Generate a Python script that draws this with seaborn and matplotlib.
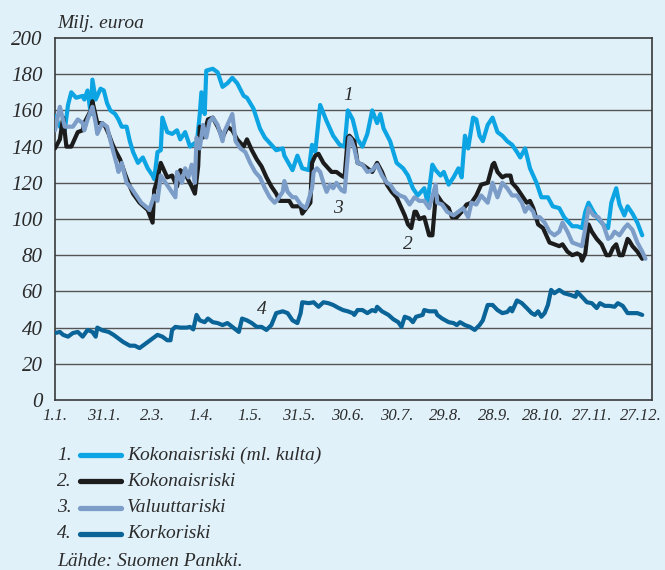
import matplotlib
matplotlib.use("Agg")
import matplotlib.pyplot as plt
from matplotlib.lines import Line2D
import seaborn as sns
import pandas as pd

# ---------------- data (day of year, million euro) ----------------
series_names = ["Kokonaisriski (ml. kulta)", "Kokonaisriski", "Valuuttariski", "Korkoriski"]

days_1 = [0, 3, 6, 8, 10, 13, 17, 18, 20, 22, 23, 25, 28, 30, 32, 34, 37, 39, 41, 44, 46, 48, 51, 54,
          57, 60, 61, 63, 65, 66, 69, 72, 75, 77, 80, 83, 86, 87, 89, 90, 92, 93, 97, 100, 103, 106,
          109, 112, 116, 118, 122, 126, 129, 133, 136, 140, 141, 146, 149, 152, 156, 158, 160, 163,
          167, 171, 175, 178, 180, 183, 186, 189, 192, 195, 198, 200, 202, 206, 210, 214, 217, 220,
          223, 227, 229, 232, 234, 237, 239, 242, 245, 248, 250, 252, 254, 257, 259, 261, 263, 266,
          269, 272, 275, 278, 281, 284, 286, 289, 292, 296, 299, 303, 306, 310, 313, 318, 321, 324,
          326, 328, 331, 334, 337, 340, 342, 345, 347, 350, 352, 355, 358, 361]
vals_1 = [157, 151, 149, 163, 170, 167, 168, 166, 171, 158, 177, 166, 172, 171, 164, 160, 158, 155,
          151, 151, 143, 137, 131, 134, 128, 124, 122, 137, 138, 156, 148, 147, 149, 144, 148, 140,
          142, 140, 158, 170, 158, 182, 183, 181, 173, 175, 178, 175, 168, 167, 161, 150, 145, 141,
          138, 139, 135, 127, 135, 128, 127, 141, 137, 163, 154, 146, 141, 140, 160, 155, 144, 140,
          147, 160, 153, 158, 150, 143, 131, 128, 124, 117, 113, 117, 109, 130, 127, 124, 126, 119,
          123, 128, 123, 146, 139, 156, 155, 146, 143, 152, 156, 148, 146, 143, 141, 137, 134, 139,
          128, 120, 112, 112, 107, 106, 101, 96, 96, 95, 104, 109, 104, 100, 97, 95, 109, 117, 108,
          102, 107, 103, 98, 91]

days_2 = [0, 3, 5, 7, 10, 14, 17, 18, 22, 23, 26, 29, 31, 33, 35, 37, 40, 43, 46, 48, 52, 57, 60, 61,
          63, 65, 69, 72, 75, 77, 80, 84, 86, 88, 89, 91, 94, 97, 100, 103, 106, 109, 112, 116, 118,
          121, 124, 127, 130, 133, 136, 138, 144, 146, 151, 152, 157, 158, 160, 162, 165, 168, 170,
          173, 176, 178, 180, 181, 184, 186, 189, 192, 195, 198, 201, 204, 207, 210, 213, 215, 217,
          219, 221, 222, 224, 227, 230, 232, 234, 235, 238, 242, 244, 247, 250, 253, 256, 259, 262,
          266, 269, 270, 272, 275, 277, 280, 281, 284, 287, 290, 292, 294, 297, 300, 302, 304, 307,
          310, 312, 315, 318, 321, 323, 324, 326, 328, 330, 333, 336, 339, 341, 343, 345, 347, 349,
          352, 353, 355, 358, 361]
vals_2 = [139, 144, 156, 140, 140, 148, 149, 153, 160, 165, 153, 153, 151, 147, 142, 138, 133, 125,
          118, 114, 109, 105, 98, 116, 122, 131, 123, 124, 118, 127, 125, 118, 114, 129, 151, 145,
          155, 156, 151, 145, 151, 149, 144, 140, 144, 138, 133, 129, 123, 118, 114, 110, 110, 107,
          107, 103, 109, 131, 135, 136, 131, 128, 126, 126, 124, 123, 145, 146, 143, 131, 130, 128,
          126, 131, 126, 119, 115, 112, 106, 102, 97, 95, 104, 104, 100, 101, 91, 91, 112, 113, 109,
          106, 101, 101, 104, 108, 109, 113, 119, 120, 130, 131, 126, 123, 124, 124, 120, 117, 113,
          109, 110, 106, 97, 95, 91, 87, 86, 85, 86, 82, 80, 81, 80, 77, 81, 97, 93, 89, 86, 80, 80,
          84, 86, 80, 80, 89, 88, 85, 82, 78]

days_3 = [0, 3, 6, 9, 11, 14, 17, 18, 20, 23, 25, 26, 29, 32, 35, 38, 39, 41, 44, 47, 50, 53, 57, 58,
          61, 63, 65, 68, 71, 74, 75, 78, 80, 82, 84, 86, 87, 89, 91, 93, 95, 97, 100, 103, 104, 108,
          109, 111, 114, 117, 120, 123, 126, 129, 132, 135, 137, 140, 141, 143, 146, 148, 151, 154,
          155, 158, 159, 161, 163, 165, 167, 169, 171, 173, 176, 178, 180, 181, 182, 184, 186, 189,
          192, 195, 198, 201, 204, 206, 209, 212, 215, 218, 221, 224, 227, 230, 234, 235, 238, 241,
          245, 248, 251, 254, 256, 259, 262, 266, 269, 270, 272, 275, 278, 281, 284, 287, 289, 291,
          294, 295, 298, 301, 304, 307, 310, 312, 315, 318, 321, 324, 326, 328, 331, 334, 337, 340,
          342, 344, 347, 350, 352, 355, 358, 361, 363]
vals_3 = [149, 162, 151, 151, 151, 155, 153, 149, 155, 162, 153, 147, 153, 151, 140, 130, 126, 131,
          120, 117, 113, 109, 106, 105, 113, 110, 124, 120, 116, 112, 126, 120, 128, 123, 130, 120,
          145, 139, 152, 145, 154, 156, 152, 143, 148, 156, 158, 143, 139, 137, 131, 126, 123, 117,
          112, 109, 111, 115, 121, 115, 112, 112, 108, 106, 108, 117, 126, 128, 126, 120, 115, 119,
          117, 120, 116, 115, 135, 145, 144, 139, 131, 130, 126, 127, 130, 124, 120, 119, 115, 113,
          112, 108, 112, 110, 110, 106, 119, 109, 108, 104, 102, 104, 106, 101, 109, 108, 113, 109,
          120, 117, 112, 120, 117, 113, 113, 109, 104, 107, 104, 101, 101, 98, 93, 91, 93, 98, 93,
          87, 86, 85, 95, 106, 102, 101, 97, 89, 90, 93, 91, 95, 97, 94, 87, 82, 78]

days_4 = [0, 3, 5, 8, 11, 14, 17, 20, 23, 25, 26, 29, 33, 36, 39, 42, 46, 49, 52, 54, 57, 60, 63, 66,
          69, 71, 72, 74, 77, 81, 83, 85, 87, 89, 92, 94, 97, 100, 103, 106, 109, 113, 115, 118, 121,
          124, 127, 130, 133, 136, 140, 143, 146, 149, 151, 152, 156, 159, 162, 165, 168, 171, 174,
          177, 180, 183, 184, 186, 189, 192, 195, 197, 198, 201, 205, 208, 211, 213, 215, 218, 220,
          222, 226, 227, 230, 234, 235, 238, 242, 245, 247, 249, 252, 255, 258, 261, 263, 266, 269,
          272, 275, 278, 280, 281, 284, 287, 290, 293, 295, 297, 299, 301, 303, 305, 307, 310, 313,
          317, 320, 321, 325, 327, 330, 333, 335, 338, 341, 344, 346, 349, 352, 355, 358, 361]
vals_4 = [37, 37.6, 36, 35, 37, 37.6, 35, 38.7, 37.6, 35, 40, 38.5, 37.6, 36, 34, 32, 30, 30, 28.7,
          30, 32, 34, 36, 35, 33, 33, 38.7, 40.4, 40, 40, 40.4, 39, 47, 44, 43, 45, 43, 42.5, 41.4,
          42.5, 40.4, 37.6, 45, 44, 42.5, 40.4, 40.4, 38.7, 41.4, 48, 49, 48, 44, 42.5, 48, 54, 53.5,
          54, 51.5, 54, 53.5, 52.5, 51, 49.7, 49, 48, 47, 49.7, 49.7, 48, 49.7, 49, 51.5, 49, 47,
          44.6, 43, 40.4, 46, 45, 43, 46, 47, 49.7, 49, 49, 47, 45, 43, 42.5, 41.4, 43, 41.4, 40.4,
          38.7, 41.4, 44, 52.5, 52.5, 49.7, 48, 48.6, 50.8, 49, 55, 53.5, 50.8, 48, 47, 49, 46, 48,
          52.5, 60.8, 59, 60.8, 59, 58, 57, 59.7, 56, 54, 53.5, 50.8, 53.5, 52, 52, 51.5, 53.5, 52,
          48, 48, 48, 47]

x_ticks = [0, 30, 60, 90, 120, 150, 180, 210, 240, 270, 300, 330, 360]
x_tick_labels = ["1.1.", "31.1.", "2.3.", "1.4.", "1.5.", "31.5.", "30.6.", "30.7.", "29.8.",
                 "28.9.", "28.10.", "27.11.", "27.12."]
y_ticks = [0, 20, 40, 60, 80, 100, 120, 140, 160, 180, 200]

# ---------------- build long-form table ----------------
frames = []
for name, d, v in zip(series_names, [days_1, days_2, days_3, days_4],
                      [vals_1, vals_2, vals_3, vals_4]):
    frames.append(pd.DataFrame({"day": d, "value": v, "series": name}))
df = pd.concat(frames, ignore_index=True)

# ---------------- style ----------------
BG = "#e1f1fa"
TXT = "#2b2b2b"
palette = {
    series_names[0]: "#0ca4e2",
    series_names[1]: "#1c1c1c",
    series_names[2]: "#7b9dc8",
    series_names[3]: "#0a6497",
}

sns.set_theme(style="white")
plt.rcParams["font.family"] = ["Liberation Serif", "DejaVu Serif"]
plt.rcParams["font.style"] = "italic"

fig = plt.figure(figsize=(6.65, 5.7), dpi=100, facecolor=BG)
ax = fig.add_axes([55 / 665, 1 - 400 / 570, (652 - 55) / 665, (400 - 38) / 570])
ax.set_facecolor(BG)

for yv in y_ticks[1:-1]:
    ax.axhline(yv, color="#555555", lw=1.0, zorder=1)

sns.lineplot(data=df, x="day", y="value", hue="series", hue_order=series_names,
             palette=palette, linewidth=3.0, legend=False, sort=False,
             estimator=None, ax=ax, zorder=3)

ax.set_xlim(0, 367)
ax.set_ylim(0, 200)
ax.set_xticks(x_ticks)
ax.set_xticklabels(x_tick_labels, fontsize=12, style="italic", color=TXT)
ax.set_yticks(y_ticks)
ax.set_yticklabels([str(t) for t in y_ticks], fontsize=15, style="italic", color=TXT)
ax.tick_params(axis="x", direction="in", length=7, width=1, color="#555555", pad=6)
ax.tick_params(axis="y", length=0, pad=9)
ax.set_xlabel("")
ax.set_ylabel("")
for s in ["left", "right", "top", "bottom"]:
    ax.spines[s].set_visible(True)
    ax.spines[s].set_color("#3a3a3a")
    ax.spines[s].set_linewidth(1.2)

# series number labels in plot
ax.text(180, 168, "1", fontsize=14, style="italic", color=TXT, ha="center", va="center")
ax.text(217, 86, "2", fontsize=14, style="italic", color=TXT, ha="center", va="center")
ax.text(174, 106, "3", fontsize=14, style="italic", color=TXT, ha="center", va="center")
ax.text(127, 50, "4", fontsize=14, style="italic", color=TXT, ha="center", va="center")

# unit label
fig.text(57 / 665, 1 - 23 / 570, "Milj. euroa", fontsize=14, style="italic", color=TXT,
         ha="left", va="center")

# legend (manual)
rows_y = [455, 481, 508, 534]
for i, (name, yy) in enumerate(zip(series_names, rows_y)):
    fy = 1 - yy / 570
    fig.text(72 / 665, fy, f"{i + 1}.", fontsize=14, style="italic", color=TXT,
             ha="right", va="center")
    fig.add_artist(Line2D([80 / 665, 121 / 665], [fy, fy], color=palette[name], lw=3.8,
                          solid_capstyle="round", transform=fig.transFigure))
    fig.text(127 / 665, fy, name, fontsize=14, style="italic", color=TXT,
             ha="left", va="center")
fig.text(57 / 665, 1 - 561 / 570, "Lähde: Suomen Pankki.", fontsize=14, style="italic",
         color=TXT, ha="left", va="center")

fig.savefig("out.png", dpi=100, facecolor=BG)
